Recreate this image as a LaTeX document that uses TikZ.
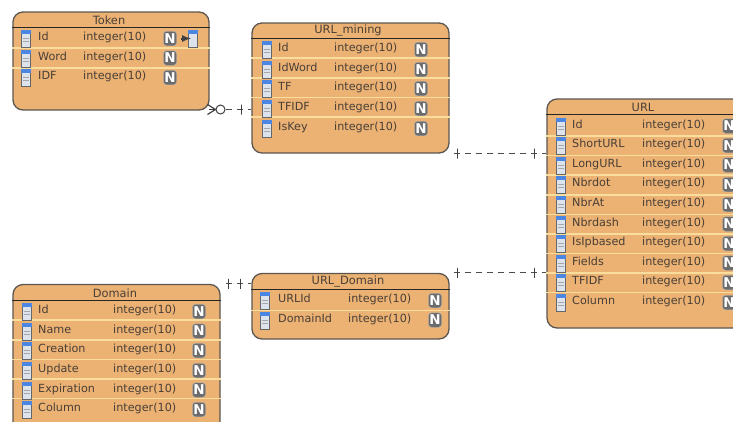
\documentclass[tikz,border=0pt]{standalone}
\usepackage{fontspec}
\setmainfont{DejaVu Sans}

\definecolor{tablefill}{HTML}{EBB274}
\definecolor{tableedge}{HTML}{5C5650}
\definecolor{rowline}{HTML}{F9DD9C}
\definecolor{labeltext}{HTML}{4A3F36}
\definecolor{iconblue}{HTML}{4A86E2}
\definecolor{iconbody}{HTML}{DDE3EC}

\tikzset{
    dbtable/.style={draw=tableedge, fill=tablefill, line width=1.3pt, rounded corners=10pt, inner sep=0pt},
    headtext/.style={text=labeltext, font=\fontsize{11.4}{12}\selectfont, inner sep=0pt},
    fieldtext/.style={text=labeltext, font=\fontsize{11.2}{12}\selectfont, anchor=mid west, inner sep=0pt},
    fieldicon/.style={draw=gray!80!black, fill=iconbody, line width=0.6pt, minimum width=9.5pt, minimum height=17pt, inner sep=0pt},
    nullmark/.style={fill=gray!85!black, draw=gray!60, rounded corners=3pt, text=white, minimum width=13pt, minimum height=14.5pt, inner sep=0pt, font=\bfseries\fontsize{13.5}{12}\selectfont},
    headline/.style={draw=black!85, line width=1pt},
    sepline/.style={draw=rowline, line width=1.3pt},
    fkline/.style={draw=black!70, line width=0.8pt, dash pattern=on 6pt off 5pt},
    crossbar/.style={draw=black!75, line width=0.9pt, minimum width=0pt, minimum height=10pt, inner sep=0pt, outer sep=0pt},
    optcircle/.style={circle, draw=black!75, fill=white, line width=1pt, minimum size=9pt, inner sep=0pt},
}

% prefix, icon x, name x, type x, null x, y, label
\newcommand{\tablefield}[7]{
    \node[fieldicon] (#1icon) at (#2, #6+2) {};
    \fill[iconblue] (#1icon.north west) rectangle ([yshift=-4pt]#1icon.north east);
    \draw[gray!70, line width=0.4pt] ([xshift=2pt, yshift=-8pt]#1icon.north west) -- ([xshift=-2pt, yshift=-8pt]#1icon.north east);
    \draw[gray!70, line width=0.4pt] ([xshift=2pt, yshift=-11pt]#1icon.north west) -- ([xshift=-2pt, yshift=-11pt]#1icon.north east);
    \node[fieldtext] (#1name) at (#3, #6+1) {#7};
    \node[fieldtext] (#1type) at (#4, #6+1) {integer(10)};
    \node[nullmark] (#1null) at (#5, #6+1.5) {N};
}
% table, y
\newcommand{\tablesep}[2]{
    \draw[sepline] (#1.west |- 0, #2) -- (#1.east |- 0, #2);
}

\begin{document}
\begin{tikzpicture}[x=1pt, y=-1pt]
    \path[use as bounding box, clip] (0,0) rectangle (733,421);

    % Token
    \node[dbtable, minimum width=196pt, minimum height=98pt] (token) at (111, 61) {};
    \node[headtext] (tokenhead) at (109, 20) {Token};
    \draw[headline] (token.west |- 0, 27) -- (token.east |- 0, 27);
    \tablesep{token}{48}
    \tablesep{token}{68}
    \tablefield{tokid}{26}{38}{83}{170}{37}{Id}
    \tablefield{tokword}{26}{38}{83}{170}{56.5}{Word}
    \tablefield{tokidf}{26}{38}{83}{170}{76}{IDF}
    \node[fieldicon] (tokkey) at (193, 39) {};
    \fill[iconblue] (tokkey.north west) rectangle ([yshift=-4pt]tokkey.north east);
    \draw[-latex, black!75, line width=2pt, shorten <=4pt, shorten >=-3pt] (tokidnull.east) -- (tokkey.west |- tokidnull.east);

    % URL_mining
    \node[dbtable, minimum width=197pt, minimum height=130pt] (urlmining) at (350.5, 88) {};
    \node[headtext] (mininghead) at (348, 31) {URL\_mining};
    \draw[headline] (urlmining.west |- 0, 38) -- (urlmining.east |- 0, 38);
    \tablesep{urlmining}{58}
    \tablesep{urlmining}{78}
    \tablesep{urlmining}{97.5}
    \tablesep{urlmining}{117}
    \tablefield{minid}{267}{278}{334}{421}{48}{Id}
    \tablefield{minword}{267}{278}{334}{421}{68}{IdWord}
    \tablefield{mintf}{267}{278}{334}{421}{87}{TF}
    \tablefield{mintfidf}{267}{278}{334}{421}{107}{TFIDF}
    \tablefield{minkey}{267}{278}{334}{421}{127}{IsKey}

    % URL
    \node[dbtable, minimum width=226pt, minimum height=229pt] (url) at (660, 213.5) {};
    \node[headtext] (urlhead) at (643, 107) {URL};
    \draw[headline] (url.west |- 0, 114) -- (url.east |- 0, 114);
    \tablesep{url}{136}
    \tablesep{url}{155.5}
    \tablesep{url}{175}
    \tablesep{url}{195}
    \tablesep{url}{214.5}
    \tablesep{url}{234}
    \tablesep{url}{253.5}
    \tablesep{url}{273}
    \tablesep{url}{292.5}
    \tablefield{urlid}{561}{572}{642}{729}{124.5}{Id}
    \tablefield{urlshort}{561}{572}{642}{729}{144}{ShortURL}
    \tablefield{urllong}{561}{572}{642}{729}{163.5}{LongURL}
    \tablefield{urldot}{561}{572}{642}{729}{183}{Nbrdot}
    \tablefield{urlat}{561}{572}{642}{729}{203}{NbrAt}
    \tablefield{urldash}{561}{572}{642}{729}{222.5}{Nbrdash}
    \tablefield{urlip}{561}{572}{642}{729}{242}{IsIpbased}
    \tablefield{urlfields}{561}{572}{642}{729}{261.5}{Fields}
    \tablefield{urltfidf}{561}{572}{642}{729}{281}{TFIDF}
    \tablefield{urlcol}{561}{572}{642}{729}{301}{Column}

    % URL_Domain
    \node[dbtable, minimum width=197pt, minimum height=65.5pt] (urldomain) at (350.5, 306.25) {};
    \node[headtext] (udhead) at (348, 282) {URL\_Domain};
    \draw[headline] (urldomain.west |- 0, 289.5) -- (urldomain.east |- 0, 289.5);
    \tablesep{urldomain}{310.5}
    \tablefield{uduid}{265}{278}{348}{435}{299}{URLId}
    \tablefield{uddid}{265}{278}{348}{435}{318.5}{DomainId}

    % Domain
    \node[dbtable, minimum width=207pt, minimum height=160pt] (domain) at (116.5, 364.5) {};
    \node[headtext] (domhead) at (115, 293) {Domain};
    \draw[headline] (domain.west |- 0, 300) -- (domain.east |- 0, 300);
    \tablesep{domain}{320}
    \tablesep{domain}{340}
    \tablesep{domain}{359.5}
    \tablesep{domain}{379}
    \tablesep{domain}{398.5}
    \tablefield{domid}{27}{38}{113}{199}{310}{Id}
    \tablefield{domname}{27}{38}{113}{199}{329.5}{Name}
    \tablefield{domcreate}{27}{38}{113}{199}{349}{Creation}
    \tablefield{domupdate}{27}{38}{113}{199}{369}{Update}
    \tablefield{domexpire}{27}{38}{113}{199}{388.5}{Expiration}
    \tablefield{domcol}{27}{38}{113}{199}{408}{Column}

    % connectors
    \coordinate (tokenout) at (209, 109.5);
    \node[optcircle] (tokenopt) at (220.5, 109.5) {};
    \draw[black!75, line width=1pt] (tokenopt.west) -- (tokenout);
    \draw[black!75, line width=1.2pt] (tokenopt.west) -- ++(-8, -5);
    \draw[black!75, line width=1.2pt] (tokenopt.west) -- ++(-8, 5);
    \draw[fkline] (tokenopt.east) -- node[crossbar, pos=0.61, solid] (tokenbar) {} (urlmining.west |- tokenopt.east);

    \draw[fkline, shorten <=4pt] (urlmining.south east) -- node[crossbar, pos=0.08, solid] (minbara) {} node[crossbar, pos=0.878, solid] (minbarb) {} (url.west |- urlmining.south east);
    \draw[fkline, shorten <=4pt] (urldomain.north east) -- node[crossbar, pos=0.08, solid] (udbara) {} node[crossbar, pos=0.878, solid] (udbarb) {} (url.west |- urldomain.north east);
    \draw[fkline, shorten <=5pt] (domain.north east) -- node[crossbar, pos=0.25, solid] (dombara) {} node[crossbar, pos=0.65, solid] (dombarb) {} (urldomain.west |- domain.north east);
\end{tikzpicture}
\end{document}
